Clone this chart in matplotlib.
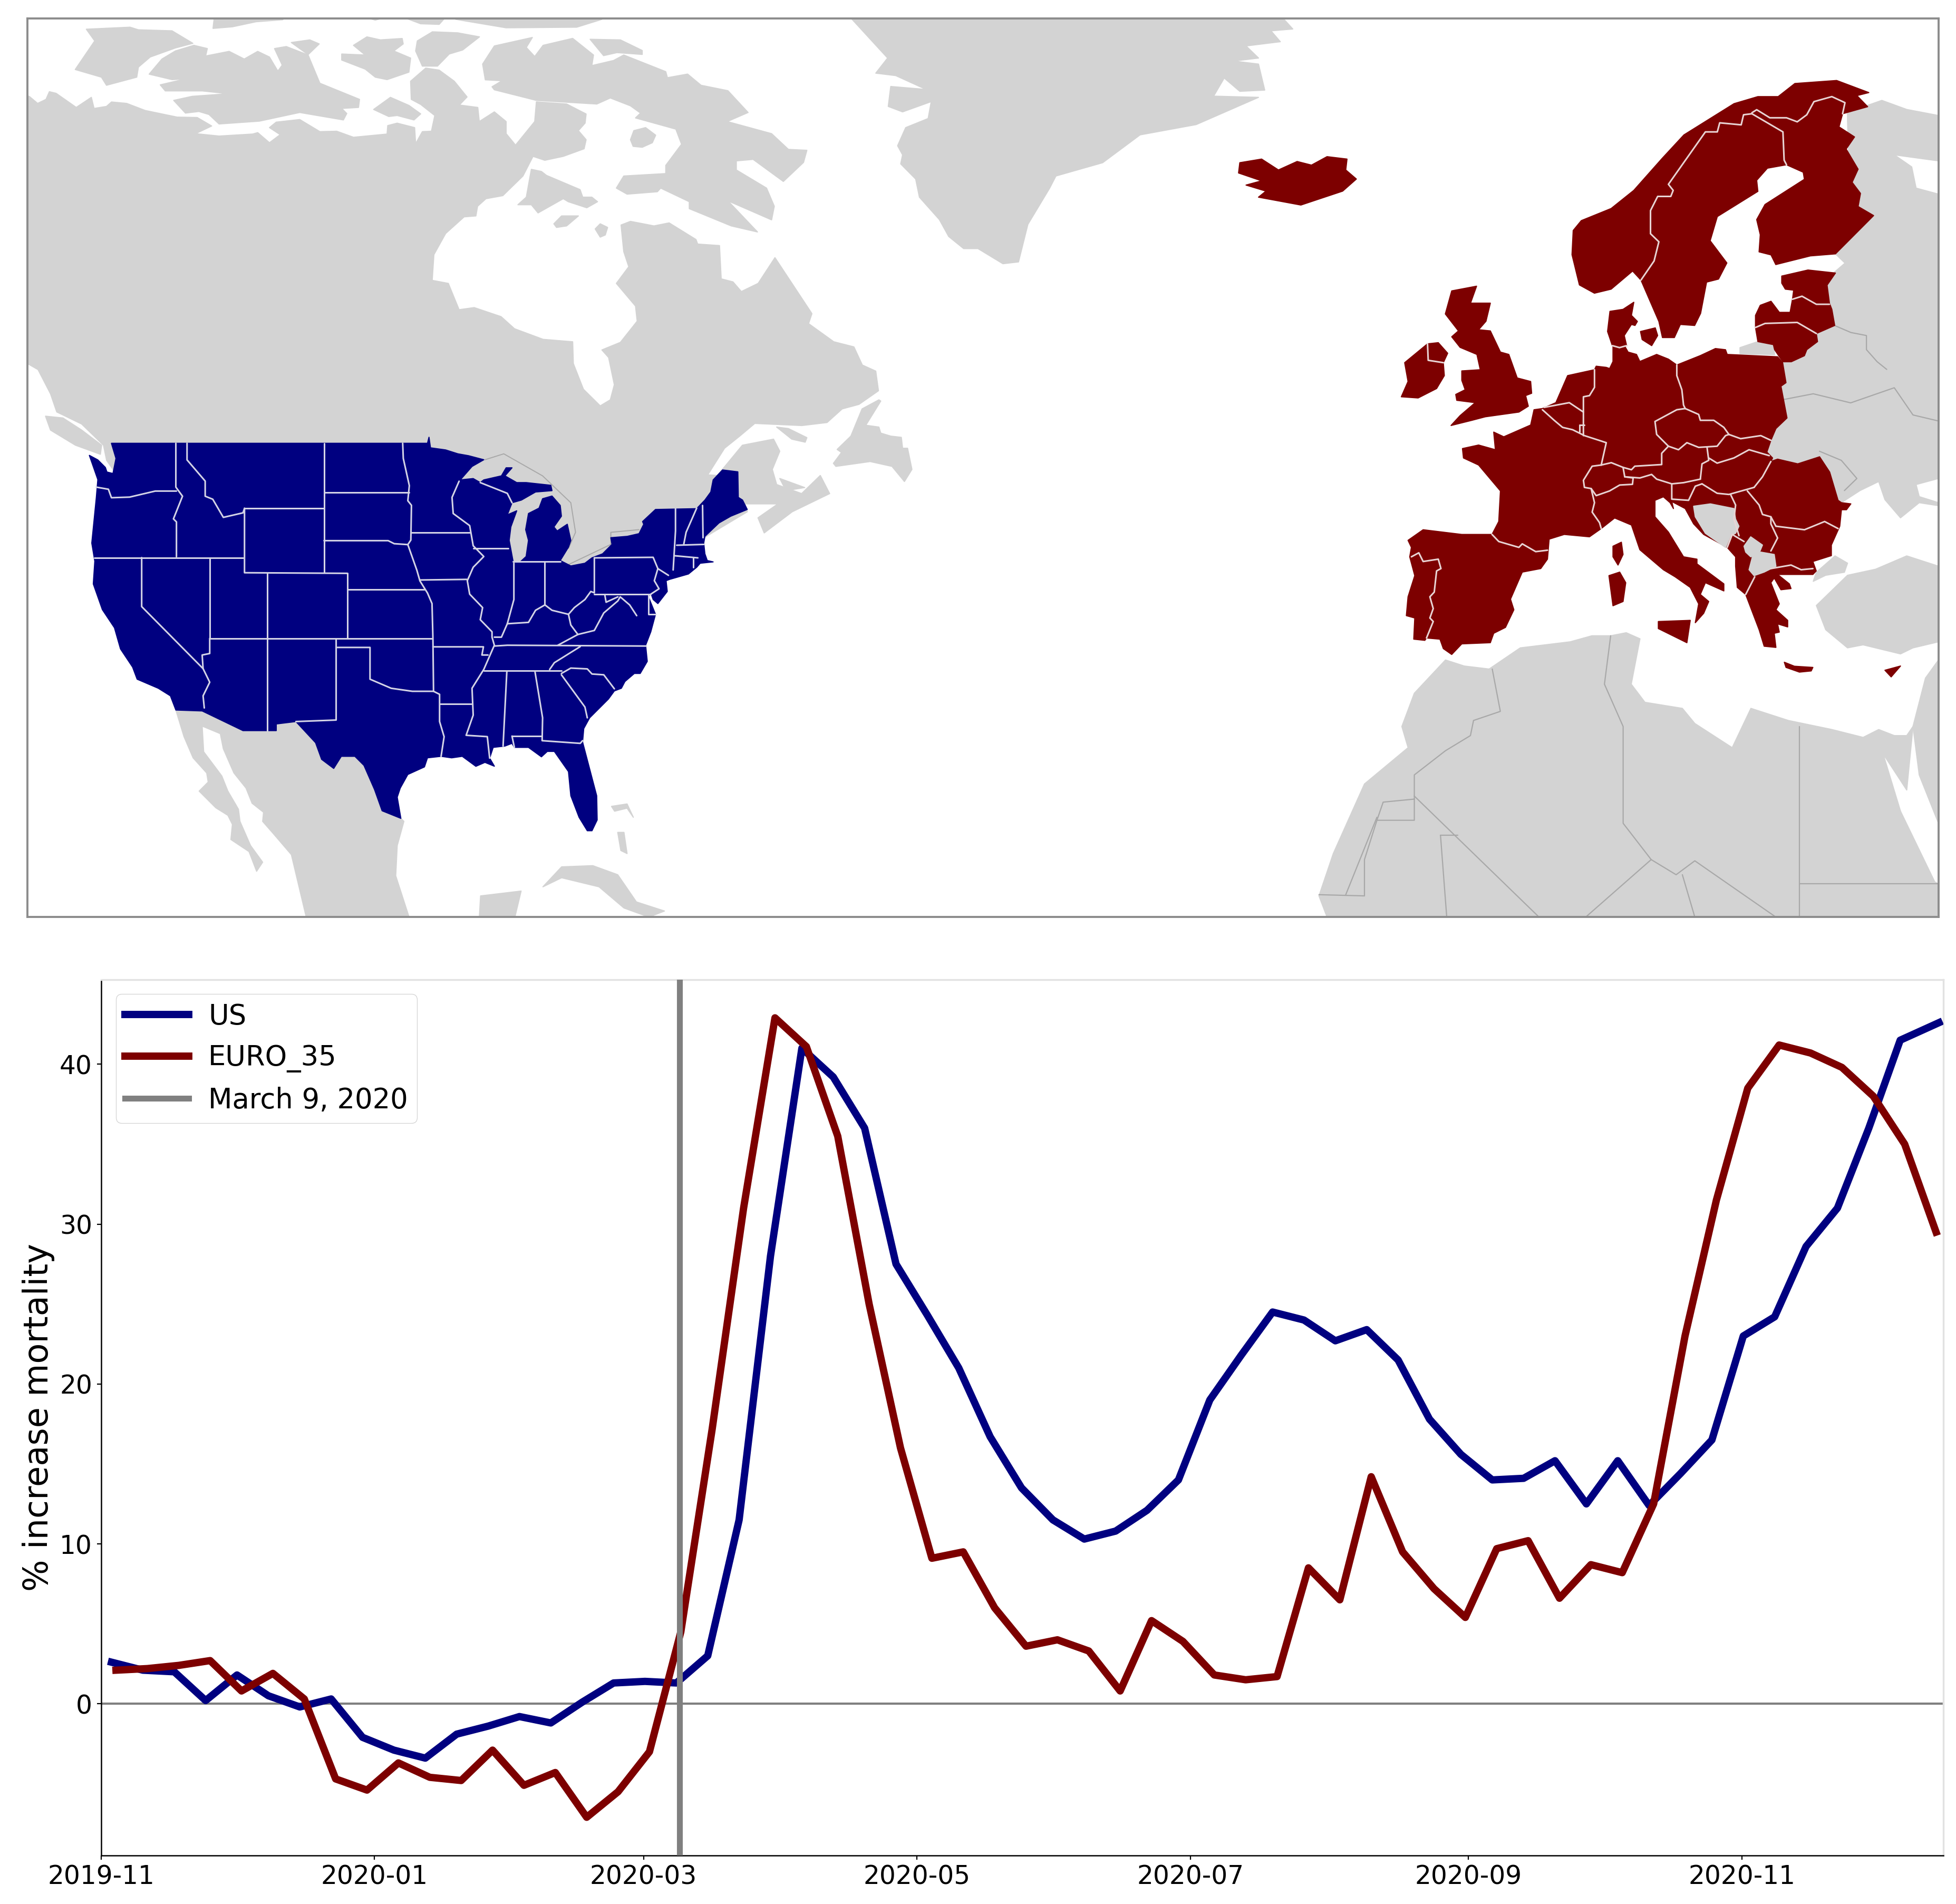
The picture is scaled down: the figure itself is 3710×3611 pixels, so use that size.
import matplotlib
matplotlib.use("Agg")
import matplotlib.pyplot as plt
import matplotlib.dates as mdates
from matplotlib.patches import Polygon
import pandas as pd

# ---------- time series ----------
us_values = [2.6, 2.1, 2.0, 0.2, 1.8, 0.5, -0.2, 0.3, -2.1, -2.9, -3.4, -1.9, -1.4, -0.8, -1.2, 0.1, 1.3, 1.4, 1.3, 3.0,
             11.5, 28.0, 41.0, 39.2, 36.0, 27.5, 24.3, 21.0, 16.7, 13.5, 11.5, 10.3, 10.8, 12.1, 14.0, 19.0, 21.8, 24.5,
             24.0, 22.7, 23.4, 21.5, 17.8, 15.6, 14.0, 14.1, 15.2, 12.5, 15.2, 12.4, 14.4, 16.5, 23.0, 24.2, 28.6, 31.0,
             36.0, 41.5, 42.6]
euro_values = [2.1, 2.2, 2.4, 2.7, 0.8, 1.9, 0.3, -4.7, -5.4, -3.7, -4.6, -4.8, -2.9, -5.1, -4.3, -7.1, -5.5, -3.0, 4.5,
               17.2, 31.0, 42.9, 41.1, 35.5, 25.0, 16.0, 9.1, 9.5, 6.0, 3.6, 4.0, 3.3, 0.8, 5.2, 3.9, 1.8, 1.5, 1.7, 8.5,
               6.5, 14.2, 9.5, 7.2, 5.4, 9.7, 10.2, 6.6, 8.7, 8.2, 12.5, 23.0, 31.5, 38.5, 41.2, 40.7, 39.8, 38.0, 35.0,
               29.5]
us_start = "2019-11-03 08:00"
euro_start = "2019-11-04 08:00"
us_last_date = "2020-12-15"
event_date = "2020-03-09"
x_left = "2019-11-01"
x_right = "2020-12-16"
x_ticks = ["2019-11-01", "2020-01-01", "2020-03-01", "2020-05-01", "2020-07-01", "2020-09-01", "2020-11-01"]
y_ticks = [0, 10, 20, 30, 40]
labels = ["US", "EURO_35", "March 9, 2020"]
y_label = "% increase mortality"

# ---------- map outlines: base units, eastern units (E), and finer tracings (A, B, C, D, F, G) ----------
canada_F = [(85,475),(110,510),(135,490),(145,452),(165,460),(225,530),(270,480),(278,535),(315,525),(330,503),(375,510),(430,545),(525,578),(585,580),(628,622),(580,660),(650,672),(750,662),(765,655),(800,705),(832,665),(800,630),(820,603),(890,590),(950,650),(1000,648),(1050,678),(1150,662),(1152,620),(1180,608),(1232,630),(1235,710),(1255,650),(1282,648),(1292,570),(1250,515),(1222,490),(1220,400),(1265,335),(1305,345),(1350,400),(1388,478),(1365,518),(1420,530),(1425,610)]
canada_G = [(170,400),(215,368),(250,400),(250,440),(278,478),(335,400),(340,335),(430,342),(488,375),(485,405),(465,430),(488,460),(482,490),(420,515),(365,528),(330,515),(300,580),(240,645),(190,655),(165,680),(160,712),(125,715),(70,770),(35,840),(30,925),(78,935),(110,1022),(155,1015),(235,1045),(275,1085),(360,1120),(448,1128),(450,1200),(480,1285),(530,1340),(560,1320),(572,1270),(555,1180),(535,1155),(590,1130),(640,1060),(635,1010),(578,935),(615,880),(600,830),(592,742),(620,730),(690,745),(735,735),(815,790),(820,805),(885,810),(890,920),(925,930),(950,962),(1000,935),(1050,850),(1160,1035),(1150,1068),(1225,1128),(1285,1145),(1310,1205),(1350,1225),(1358,1290),(1300,1335),(1250,1350),(1205,1395),(1130,1405),(990,1398),(945,1440),(900,1480),(850,1568)]
canada_tail = [(1150,785),(1190,735),(1240,725),(1250,745),(1238,775),(1245,800),(1285,815),(1315,785),(1330,815),(1270,845),(1225,880),(1215,855),(1247,832),(1194,832),(1198,845),(1125,890),(1060,950),(300,950),(170,760),(165,735),(130,700),(90,680),(80,650),(60,610),(43,600),(43,158)]
arctic_F = [
    [(255,142),(385,132),(410,145),(510,150),(572,212),(520,235),(445,280),(410,330),(405,380),(315,420),(300,380),(222,342),(280,200)],
    [(575,222),(615,238),(610,275),(680,252),(725,290),(765,252),(800,280),(825,350),(838,320),(815,238),(850,228),(915,270),(950,410),(1068,490),(1065,530),(1015,535),(1030,560),(1020,592),(890,555),(770,598),(650,612),(620,565),(590,550),(550,558),(515,495),(570,475),(678,462),(600,448),(490,448),(475,418),(552,388),(510,392),(442,365),(480,290),(520,250)],
    [(865,208),(920,195),(948,215),(915,268)],
    [(1015,265),(1085,270),(1050,222),(1090,180),(1130,195),(1195,188),(1198,215),(1170,250),(1220,285),(1215,355),(1150,392),(1115,380),(1085,340),(1015,295)],
    [(1240,200),(1285,155),(1360,160),(1425,180),(1375,245),(1335,265),(1300,325),(1255,325),(1235,250)],
    [(635,95),(840,95),(760,105),(690,130),(632,138)],
    [(1100,90),(1130,90),(1115,97)],
    [(1210,90),(1320,90),(1305,118),(1250,115)],
    [(1110,540),(1160,480),(1215,520),(1250,562),(1230,592),(1180,570),(1155,575)],
]
arctic_G = [
    [(100,62),(535,62),(460,88),(250,90)],
    [(180,210),(215,150),(328,122),(310,155),(335,185),(360,148),(448,125),(510,180),(505,215),(570,198),(600,180),(725,235),(730,255),(790,243),(830,280),(910,298),(970,370),(908,400),(1040,440),(1090,492),(1145,495),(1135,535),(1075,598),(985,525),(935,530),(935,560),(1025,620),(1048,680),(1040,725),(910,662),(998,765),(920,745),(795,688),(795,665),(710,620),(700,632),(610,640),(578,620),(600,580),(725,572),(725,545),(772,475),(755,425),(635,388),(650,372),(620,348),(560,322),(520,342),(340,330),(215,295),(208,285),(238,265),(188,262)],
    [(500,128),(590,130),(655,165),(655,178),(580,172),(540,182)],
    [(630,430),(665,420),(695,445),(685,470),(655,485),(628,482),(620,460)],
    [(325,558),(355,565),(370,578),(470,625),(478,650),(505,650),(522,665),(490,685),(435,665),(420,655),(345,702),(325,675),(285,675),(310,650)],
    [(392,738),(415,712),(465,712),(430,745),(400,750)],
    [(515,755),(530,738),(552,750),(545,775),(530,782)],
    [(1055,1410),(1090,1415),(1145,1445),(1140,1460),(1100,1450)],
]
na_islands = [
    [(1336,765),(1349,747),(1342,742),(1364,720),(1382,675),(1409,660),(1412,662),(1388,702),(1409,705),(1412,715),(1428,720),(1445,722),(1447,740),(1455,740),(1462,775),(1450,795),(1430,770),(1395,762),(1340,770)],
    [(1250,790),(1290,805),(1260,810)],
    [(72,687),(100,690),(130,710),(162,735),(160,750),(120,735),(80,710)],
    [(870,1465),(900,1432),(950,1430),(990,1445),(1020,1490),(1065,1505),(1040,1515),(1000,1500),(960,1465),(900,1450)],
    [(770,1480),(835,1472),(825,1515),(768,1515)],
    [(980,1332),(1005,1328),(1015,1350),(1005,1335),(985,1340)],
    [(990,1375),(1000,1375),(1005,1410),(995,1405)],
]
greenland = [(1366,31),(1423,95),(1404,120),(1436,124),(1485,147),(1428,142),(1424,175),(1447,184),(1493,167),(1488,195),(1452,210),(1439,240),(1447,255),(1444,270),(1468,295),(1474,325),(1506,362),(1521,390),(1545,410),(1568,410),(1608,435),(1633,432),(1648,370),(1683,310),(1693,290),(1768,268),(1828,222),(1918,205),(2018,160),(1946,158),(1963,128),(1988,150),(2028,148),(2018,105),(1978,100),(2018,95),(1998,75),(2053,68),(2038,50),(2073,47),(2058,30)]
mexico_A = [(318,952),(405,955),(540,1020),(650,1020),(650,998),(715,990),(780,1060),(800,1115),(840,1145),(865,1105),(910,1105),(940,1135),(975,1215),(1000,1285),(1062,1310),(1072,1320),(1050,1400),(1045,1500),(1089,1636),(749,1636),(700,1430),(640,1360),(605,1320),(608,1290),(570,1260),(550,1210),(510,1160),(475,1080),(465,1030),(405,1005),(410,1090),(470,1170),(490,1220),(525,1280),(530,1320),(565,1400),(605,1455),(585,1485),(560,1420),(500,1380),(505,1330),(490,1300),(450,1275),(395,1220),(425,1190),(420,1160),(375,1110),(345,1040)]
us_east_B = [(40,118),(85,125),(150,140),(100,165),(50,215),(105,210),(135,225),(150,215),(225,200),(245,170),(270,170),(240,200),(290,225),(330,225),(435,235),(440,255),(370,260),(310,290),(270,300),(250,345),(290,330),(265,390),(258,440),(275,520),(305,520),(330,500),(340,440),(328,400),(340,340),(385,320),(400,285),(440,275),(475,310),(480,350),(448,390),(462,405),(505,380),(520,440),(510,465),(475,515),(520,535),(580,525),(610,505),(655,490),(695,455),(690,430),(760,425),(810,415),(830,380),(825,370),(880,325),(1055,322),(1090,290),(1115,260),(1125,215),(1165,178),(1230,185),(1232,280),(1250,290),(1270,325),(1200,350),(1150,375),(1090,425),(1085,450),(1090,490),(1100,515),(1125,520),(1070,525),(1055,540),(1020,565),(940,585),(925,590),(930,630),(890,675),(870,660),(860,635),(850,650),(880,715),(860,780),(838,830),(845,890),(815,935),(790,935),(750,965),(735,990),(705,1000),(680,1030),(600,1100),(575,1140),(570,1190),(600,1290),(630,1390),(632,1480),(610,1520),(590,1520),(555,1470),(520,1390),(510,1300),(450,1225),(420,1225),(395,1245),(340,1210),(280,1210),(270,1195),(240,1205),(190,1210),(175,1250),(195,1280)]
us_west_A = [(1340,1125),(1310,1138),(1265,1105),(1230,1110),(1195,1105),(1150,1110),(1140,1140),(1085,1165),(1060,1210),(1050,1240),(1062,1310),(1000,1285),(975,1215),(940,1135),(910,1105),(865,1105),(840,1145),(800,1115),(780,1060),(715,990),(650,998),(650,1020),(540,1020),(405,955),(318,952),(300,905),(260,880),(190,850),(175,810),(135,750),(115,680),(75,620),(45,535),(50,460),(40,400),(55,250),(60,190),(32,110),(60,125),(85,150),(90,165),(110,170),(120,120),(105,70),(1150,70),(1155,50),(1160,85),(1210,92)]
state_lines_A = [
    [(55,215),(95,222),(105,250),(165,248),(250,228),(320,228)],
    [(318,70),(318,215),(340,245),(310,320),(320,330),(320,445)],
    [(355,70),(355,125),(415,195),(415,245),(440,255),(475,315),(540,300),(545,285)],
    [(545,285),(805,285)],
    [(545,285),(545,498),(885,500)],
    [(808,70),(808,498)],
    [(808,232),(1090,232)],
    [(808,392),(1020,392),(1040,402),(1085,405)],
    [(1068,70),(1070,120),(1090,210),(1085,260),(1097,275),(1095,390),(1085,405),(1115,490),(1125,525),(1150,565),(1165,600),(1168,715),(1170,890),(1190,900),(1190,990),(1205,1040),(1195,1105)],
    [(48,448),(540,448)],
    [(205,448),(205,610),(408,815)],
    [(430,448),(430,715)],
    [(430,715),(1165,715)],
    [(620,502),(620,1020)],
    [(885,500),(885,715)],
    [(885,553),(1140,553)],
    [(848,718),(848,985),(715,990)],
    [(848,745),(960,745),(960,850),(1030,880),(1100,890),(1170,890)],
    [(430,715),(430,765),(405,770),(408,815),(430,860),(408,905),(412,945)],
    [(1095,365),(1290,365)],
    [(1125,522),(1280,520)],
    [(1168,743),(1335,743),(1330,770),(1350,770)],
    [(1190,932),(1295,932)],
]
state_lines_B = [
    [(45,220),(15,280),(20,340),(90,385),(105,460),(150,500),(105,540),(80,590),(90,640),(145,690),(135,735),(185,780),(185,800),(195,830),(150,920),(100,990),(105,1090),(75,1165),(165,1170),(175,1250)],
    [(105,470),(255,470)],
    [(135,225),(250,265),(270,300)],
    [(278,525),(278,660),(250,750),(225,800),(195,800)],
    [(250,750),(340,745),(370,700),(410,680)],
    [(408,518),(408,680)],
    [(275,518),(475,518)],
    [(620,505),(620,635),(605,630),(580,660),(535,690),(510,715)],
    [(410,680),(440,700),(510,715)],
    [(510,715),(520,755),(550,790),(620,775),(660,710),(720,665),(730,650),(770,680),(800,720)],
    [(620,640),(860,640)],
    [(665,645),(670,670),(720,650)],
    [(550,790),(465,830)],
    [(195,833),(250,830),(840,833)],
    [(150,925),(480,925)],
    [(430,920),(450,895),(560,835)],
    [(480,935),(520,915),(590,918),(610,937),(660,940),(705,992)],
    [(480,940),(580,1060),(590,1100)],
    [(248,928),(232,1205)],
    [(368,930),(400,1100),(398,1185),(560,1195),(570,1185)],
    [(270,1168),(398,1168)],
    [(270,1168),(280,1210)],
    [(620,505),(870,503),(890,545),(935,570)],
    [(890,545),(875,590),(895,620),(860,640)],
    [(850,640),(850,715),(880,715)],
    [(965,322),(965,405),(955,550)],
    [(1055,320),(1010,410),(1000,455)],
    [(1080,310),(1082,430)],
    [(970,458),(1085,455)],
    [(960,497),(1060,505)],
    [(1040,505),(1040,540)],
]
lake_lines_B = [
    [(155,140),(235,118),(400,200),(520,300),(540,410),(510,470)],
    [(510,530),(690,455),(690,410),(810,400)],
]
iceland_E = [(420,268),(455,262),(482,280),(512,266),(535,272),(560,258),(592,262),(590,280),(607,295),(585,315),(518,338),(450,325),(462,315),(430,305),(455,298),(418,285)]
cyprus_E = [(1455,1107),(1480,1100),(1465,1118)]
scandinavia_C = [(-34,879),(0,830),(125,770),(220,680),(340,520),(430,405),(640,250),(740,215),(825,215),(895,150),(1070,135),(1205,195),(1155,210),(1200,265),(1095,300),(1080,365),(1145,415),(1110,475),(1160,575),(1135,640),(1170,695),(1160,760),(1225,805),(1065,995),(960,1005),(815,1048),(795,1000),(745,985),(750,900),(735,825),(770,750),(935,625),(930,590),(860,553),(780,570),(735,630),(740,685),(570,810),(540,930),(610,1040),(575,1120),(525,1135),(500,1290),(475,1350),(415,1345),(390,1410),(340,1410),(325,1330),(250,1125),(215,1080),(125,1170),(55,1190),(-8,1149),(-39,999)]
baltics_C = [(840,1105),(950,1075),(1065,1090),(1030,1150),(1040,1240),(1050,1270),(1062,1350),(985,1390),(990,1430),(945,1470),(935,1500),(880,1530),(845,1530),(830,1505),(810,1470),(805,1445),(740,1430),(730,1360),(730,1300),(750,1250),(795,1230),(830,1285),(875,1285),(885,1220),(890,1175),(855,1170),(840,1140)]
denmark_C = [(110,1380),(120,1280),(175,1270),(220,1235),(210,1300),(235,1330),(225,1350),(210,1345),(180,1400),(190,1450),(130,1450)]
zealand_C = [(248,1380),(310,1362),(320,1400),(295,1450),(255,1420)]
kaliningrad_C = [(665,1460),(740,1430),(805,1445),(810,1495),(665,1490)]
nordic_lines_C = [
    [(250,1125),(305,1030),(325,935),(290,895),(290,780),(320,710),(375,710),(385,680),(365,650),(520,390),(570,390),(580,345),(670,355),(680,305),(715,300),(845,390),(850,530),(860,553)],
    [(715,295),(735,280),(790,320),(860,320),(905,340),(945,305),(975,240),(1050,215),(1105,245),(1095,300)],
    [(885,1220),(925,1205),(985,1245),(1040,1245)],
    [(730,1360),(770,1340),(905,1335),(985,1390)],
    [(130,1450),(160,1460),(190,1450)],
]
belarus_line_C = [[(1065,1352),(1130,1385),(1195,1400),(1195,1470),(1240,1530),(1280,1568)]]
continent_D = [(800,125),(835,125),(845,150),(870,160),(880,190),(930,160),(965,180),(990,205),(1060,165),(1105,135),(1135,140),(1140,160),(1290,170),(1305,195),(1315,280),(1300,295),(1318,430),(1285,475),(1270,525),(1258,575),(1275,600),(1270,615),(1290,605),(1350,625),(1415,595),(1445,660),(1470,780),(1480,790),(1508,795),(1495,820),(1480,820),(1475,890),(1450,970),(1450,1015),(1395,1040),(1405,1080),(1395,1095),(1290,1095),(1325,1135),(1330,1155),(1300,1160),(1280,1110),(1270,1130),(1295,1220),(1285,1245),(1320,1290),(1320,1318),(1290,1305),(1295,1340),(1280,1345),(1285,1405),(1250,1400),(1235,1330),(1195,1180),(1170,1150),(1165,1060),(1165,1020),(1140,980),(1070,925),(1040,880),(1015,815),(975,785),(980,815),(970,790),(950,765),(925,780),(925,850),(965,915),(1010,1020),(1050,1030),(1050,1050),(1130,1135),(1130,1165),(1075,1130),(1060,1180),(1085,1210),(1070,1260),(1045,1300),(1055,1220),(1030,1150),(985,1105),(950,1075),(880,990),(855,885),(805,855),(765,900),(730,935),(655,925),(610,945),(605,1030),(585,1070),(530,1085),(495,1200),(505,1245),(480,1320),(445,1345),(435,1385),(350,1390),(320,1435),(295,1410),(285,1370),(245,1365),(240,1375),(207,1370),(210,1280),(185,1270),(190,1190),(210,1100),(195,1020),(200,980),(190,950),(235,905),(350,925),(440,925),(460,870),(465,740),(400,630),(355,600),(352,560),(400,545),(450,565),(445,490),(475,510),(555,460),(565,395),(590,390),(630,365),(665,250),(745,225),(750,210),(780,215),(790,220),(800,190)]
britain_D = [(320,-110),(394,-130),(376,-58),(435,-58),(422,19),(400,55),(435,60),(465,150),(490,160),(515,260),(555,275),(558,325),(540,335),(548,380),(520,405),(420,425),(380,440),(318,462),(345,420),(390,365),(335,355),(332,330),(360,310),(350,270),(350,230),(405,225),(395,160),(345,130),(320,85),(340,60),(301,-12)]
ireland_D = [(248,115),(280,110),(308,155),(295,195),(298,250),(275,305),(220,345),(170,340),(190,275),(180,195)]
corsica_D = [(800,975),(825,958),(830,1010),(815,1055),(800,1020)]
sardinia_D = [(788,1100),(820,1085),(838,1130),(830,1210),(800,1228)]
sicily_D = [(935,1295),(1030,1290),(1020,1385),(935,1325)]
crete_D = [(1310,1468),(1340,1485),(1395,1490),(1390,1505),(1355,1510),(1315,1490)]
border_lines_D = [
    [(248,115),(250,185),(295,195)],
    [(200,1020),(222,1003),(235,1040),(280,1030),(288,1070),(275,1080),(268,1170),(255,1190),(265,1240),(255,1280),(265,1295),(245,1365)],
    [(440,925),(460,955),(520,980),(530,965),(570,998),(605,992)],
    [(590,395),(625,440),(650,470),(680,480),(715,505),(780,535),(765,630)],
    [(595,385),(670,365),(712,405)],
    [(745,225),(745,300),(730,335),(712,340),(712,505)],
    [(700,460),(715,460)],
    [(700,460),(700,490)],
    [(765,630),(738,635),(712,695),(715,725),(735,730),(745,790),(738,830),(760,875),(765,900)],
    [(765,630),(795,620),(830,640),(835,680),(860,685),(858,712),(820,715),(790,740),(750,760),(735,730)],
    [(830,640),(855,650),(865,635),(945,628),(945,580),(965,550)],
    [(965,550),(930,500),(925,445),(990,395),(1015,390)],
    [(990,205),(990,250),(1005,310),(1010,375),(1015,390)],
    [(1015,390),(1055,415),(1060,440),(1100,440),(1130,470),(1145,500)],
    [(965,550),(995,565),(1020,535),(1055,555),(1110,550),(1135,505),(1145,500)],
    [(1145,500),(1180,518),(1240,505),(1270,525)],
    [(1085,600),(1110,622),(1160,600),(1205,565),(1265,590)],
    [(1080,555),(1085,610),(1065,625),(1060,690)],
    [(835,680),(880,685),(915,670),(930,690),(975,710),(1010,705),(1060,690)],
    [(975,710),(975,775),(1025,780),(1045,720),(1065,710)],
    [(1065,710),(1110,750),(1145,755),(1195,735),(1220,725)],
    [(1270,615),(1245,680),(1220,725)],
    [(1150,755),(1165,800),(1160,860),(1175,930)],
    [(1200,740),(1235,800),(1245,840),(1270,850),(1285,890)],
    [(1270,850),(1270,880),(1290,940),(1270,995)],
    [(1285,890),(1370,905),(1430,870),(1470,900)],
    [(1270,1070),(1330,1055),(1360,1075),(1395,1070)],
    [(1195,1180),(1222,1105)],
    [(1140,980),(1155,925),(1190,955)],
]
balkan_holes_D = [
    [(1040,805),(1090,795),(1160,815),(1165,860),(1175,890),(1165,920),(1150,930),(1135,980),(1075,920),(1045,850)],
    [(1190,975),(1210,935),(1245,970),(1235,1005),(1210,1020),(1195,1000)],
    [(1215,1020),(1240,1000),(1280,1010),(1285,1060),(1250,1085),(1220,1100),(1205,1075)],
]
east_europe_E = [(1395,185),(1450,165),(1490,180),(1541,190),(1541,265),(1470,255),(1498,275),(1505,310),(1541,320),(1541,790),(1505,800),(1510,820),(1541,830),(1541,835),(1510,830),(1480,855),(1455,825),(1445,795),(1415,810),(1385,830),(1350,800),(1260,760),(1250,650),(1300,590),(1340,500),(1374,449),(1391,434),(1376,419),(1400,350),(1395,200)]
turkey_europe_E = [(1340,960),(1345,945),(1375,918),(1395,930),(1390,945),(1360,950)]
anatolia_E = [(1345,1000),(1395,950),(1440,940),(1490,918),(1541,935),(1541,1060),(1500,1070),(1480,1080),(1420,1065),(1395,1070),(1360,1040)]
africa_E = [(750,1090),(780,1100),(820,1105),(870,1070),(950,1060),(985,1050),(1015,1050),(1040,1045),(1062,1055),(1048,1130),(1070,1160),(1130,1170),(1150,1195),(1210,1235),(1240,1170),(1300,1190),(1370,1205),(1420,1218),(1445,1205),(1470,1215),(1490,1215),(1500,1200),(1490,1305),(1452,1245),(1480,1340),(1535,1457),(1541,1460),(1541,1515),(560,1515),(547,1480),(570,1410),(620,1295),(690,1235),(680,1200),(700,1145)]
arabia_E = [(1500,1200),(1510,1280),(1541,1360),(1541,1090),(1520,1120)]
gray_lines_E = [
    [(825,1105),(838,1175),(795,1190),(790,1215),(750,1240),(700,1280),(700,1315)],
    [(700,1315),(700,1355),(640,1355),(650,1325),(700,1320)],
    [(640,1355),(620,1420),(620,1480),(547,1478)],
    [(590,1478),(640,1350)],
    [(700,1315),(900,1515)],
    [(742,1380),(770,1380)],
    [(742,1380),(752,1515)],
    [(1015,1050),(1005,1130),(1035,1200),(1035,1360),(1080,1420),(975,1515)],
    [(1080,1420),(1120,1445),(1150,1422),(1280,1515)],
    [(1130,1445),(1150,1515)],
    [(1318,1200),(1318,1515)],
    [(1318,1460),(1541,1460)],
    [(1290,660),(1340,650),(1400,665),(1470,640),(1500,685),(1541,695)],
    [(1350,745),(1385,760),(1410,790),(1390,810)],
]

MAP_X = (43, 3109)
MAP_Y = (1515, 30)
GRAY, NAVY, MAROON = "#d3d3d3", "#000080", "#7d0000"
# unit conversions of the tracings: x0, x scale, y0, y scale
BASE = (0, 1, 0, 1)
E = (1568, 1, 0, 1)
A = (126.8, .4852, 696.8, .5)
B = (718.5, .3774, 696.8, .4444)
C = (2535.9, .3828, 87.1, .3333)
D = (2155.5, .539, 522.7, .389)
F = (0, .5391, 0, .3333)
G = (676.2, .5391, 0, .5)

W, H = 3710, 3611
fig = plt.figure(figsize=(W / 100, H / 100), dpi=100, facecolor="white")

# ---------- map ----------
ax_map = fig.add_axes([22 / 1568, 1 - 735 / 1526, (1554 - 22) / 1568, 720 / 1526])
ax_map.set_xlim(*MAP_X)
ax_map.set_ylim(*MAP_Y)
ax_map.set_xticks([])
ax_map.set_yticks([])
for s in ax_map.spines.values():
    s.set_color("#8c8c8c")
    s.set_linewidth(2.8)
    s.set_zorder(10)


def conv(points, v):
    return [(v[0] + v[1] * x, v[2] + v[3] * y) for x, y in points]


def fill(points, v, color, z=1):
    ax_map.add_patch(Polygon(conv(points, v), closed=True, facecolor=color,
                             edgecolor=color, linewidth=1.5, zorder=z,
                             joinstyle="round"))


def lines(groups, v, color, lw=2.2, z=3):
    for g in groups:
        xs, ys = zip(*conv(g, v))
        ax_map.plot(xs, ys, color=color, lw=lw, zorder=z, solid_joinstyle="round",
                    solid_capstyle="round")


fill(conv(canada_F, F) + conv(canada_G, G) + canada_tail, BASE, GRAY)
fill(greenland, BASE, GRAY)
fill(mexico_A, A, GRAY)
for p in arctic_F:
    fill(p, F, GRAY)
for p in arctic_G:
    fill(p, G, GRAY)
for p in na_islands:
    fill(p, BASE, GRAY)
for p in (east_europe_E, turkey_europe_E, anatolia_E, africa_E, arabia_E):
    fill(p, E, GRAY)
fill(kaliningrad_C, C, GRAY)
lines(gray_lines_E, E, "#a8a8a8", lw=1.6, z=1.5)
lines(belarus_line_C, C, "#a8a8a8", lw=1.6, z=1.5)
lines(lake_lines_B, B, "#a8a8a8", lw=1.4, z=1.5)

fill(conv(us_east_B, B) + conv(us_west_A, A), BASE, NAVY, z=2)
lines(state_lines_A, A, "#d4d4e6")
lines(state_lines_B, B, "#d4d4e6")

fill(iceland_E, E, MAROON, z=2)
fill(cyprus_E, E, MAROON, z=2)
for p in (scandinavia_C, baltics_C, denmark_C, zealand_C):
    fill(p, C, MAROON, z=2)
for p in (continent_D, britain_D, ireland_D, corsica_D, sardinia_D, sicily_D, crete_D):
    fill(p, D, MAROON, z=2)
lines(nordic_lines_C, C, "#e8d4d4")
lines(border_lines_D, D, "#e8d4d4")
for p in balkan_holes_D:
    fill(p, D, GRAY, z=2.5)

# ---------- series ----------
ax = fig.add_axes([81 / 1568, 1 - 1487 / 1526, (1558 - 81) / 1568, (1487 - 785) / 1526])
us_dates = list(pd.date_range(us_start, periods=len(us_values) - 1, freq="7D")) + [pd.Timestamp(us_last_date)]
euro_dates = pd.date_range(euro_start, periods=len(euro_values), freq="7D")
ax.axhline(0, color="gray", lw=3, zorder=1)
ax.plot(us_dates, us_values, color=NAVY, lw=10, label=labels[0], zorder=3)
ax.plot(euro_dates, euro_values, color=MAROON, lw=10, label=labels[1], zorder=4)
ax.axvline(pd.Timestamp(event_date), color="gray", lw=8, label=labels[2], zorder=5)
ax.set_xlim(pd.Timestamp(x_left), pd.Timestamp(x_right))
ax.set_ylim(-9.48, 45.3)
ax.set_xticks(pd.to_datetime(x_ticks))
ax.xaxis.set_major_formatter(mdates.DateFormatter("%Y-%m"))
ax.set_yticks(y_ticks)
ax.tick_params(axis="both", labelsize=35, length=6, width=1.6, pad=6)
ax.set_ylabel(y_label, fontsize=46)
ax.yaxis.set_label_coords(-0.025, 0.5)
for side in ("top", "right"):
    ax.spines[side].set_color("#e2e2e2")
    ax.spines[side].set_linewidth(2.5)
for side in ("left", "bottom"):
    ax.spines[side].set_linewidth(1.8)
ax.legend(loc="upper left", fontsize=38, handlelength=2.3, handletextpad=0.7, borderpad=0.32,
          labelspacing=0.5, bbox_to_anchor=(0.0081, 0.9835), borderaxespad=0)

fig.savefig("out.png", dpi=100)
